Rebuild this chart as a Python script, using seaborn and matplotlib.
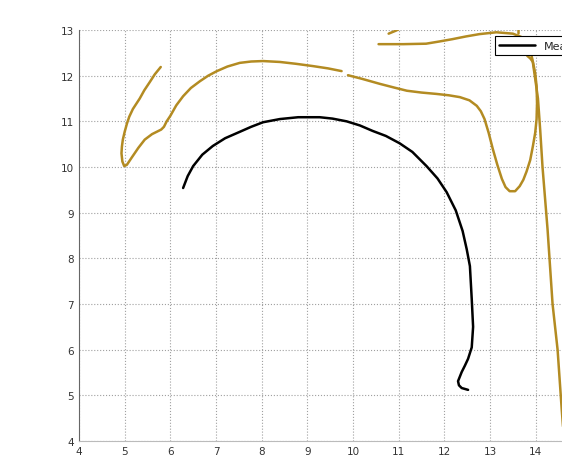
import matplotlib
matplotlib.use("Agg")
import matplotlib.pyplot as plt
import seaborn as sns

# trajectoire mesurée (noire)
meas_x = [6.28, 6.38, 6.5, 6.7, 6.93, 7.2, 7.52, 7.77, 8.03, 8.4, 8.8, 9.27, 9.55, 9.86,
          10.15, 10.43, 10.72, 11.02, 11.3, 11.61, 11.85, 12.05, 12.25, 12.4, 12.49, 12.56,
          12.6, 12.63, 12.6, 12.52, 12.45, 12.38, 12.3, 12.32, 12.38, 12.52]
meas_y = [9.54, 9.8, 10.02, 10.27, 10.46, 10.63, 10.77, 10.88, 10.98, 11.05, 11.09, 11.09, 11.06, 11.0,
          10.91, 10.79, 10.68, 10.52, 10.33, 10.02, 9.75, 9.45, 9.05, 8.6, 8.2, 7.83,
          7.11, 6.5, 6.05, 5.8, 5.65, 5.51, 5.31, 5.22, 5.16, 5.12]

# courbes dorées
gold_a_x = [5.79, 5.66, 5.55, 5.43, 5.33, 5.18, 5.1, 5.05, 5.0, 4.96, 4.94, 4.93, 4.95, 4.99, 5.05,
            5.15, 5.3, 5.44, 5.6, 5.72, 5.8, 5.86, 5.92, 6.0, 6.13, 6.28, 6.45, 6.65, 6.83, 7.02,
            7.25, 7.52, 7.77, 8.03, 8.4, 8.75, 9.12, 9.45, 9.75]
gold_a_y = [12.19, 12.03, 11.86, 11.68, 11.5, 11.27, 11.1, 10.95, 10.77, 10.6, 10.45, 10.3, 10.12,
            10.02, 10.05, 10.2, 10.42, 10.6, 10.72, 10.78, 10.82, 10.88, 11.0, 11.12, 11.35, 11.55,
            11.73, 11.88, 12.0, 12.1, 12.2, 12.28, 12.31, 12.32, 12.3, 12.26, 12.21, 12.16, 12.1]

gold_b_x = [9.89, 10.2, 10.59, 10.9, 11.18, 11.5, 11.83, 12.1, 12.34, 12.55, 12.71, 12.8, 12.88,
            12.97, 13.06, 13.16, 13.26, 13.34, 13.43, 13.55, 13.65, 13.73, 13.8, 13.88, 13.94,
            13.99, 14.02, 14.03, 14.02, 13.99, 13.94, 13.88, 13.82, 13.76]
gold_b_y = [12.01, 11.93, 11.82, 11.74, 11.67, 11.63, 11.6, 11.57, 11.53, 11.46, 11.34, 11.22, 11.05,
            10.75, 10.4, 10.05, 9.74, 9.56, 9.47, 9.47, 9.58, 9.72, 9.9, 10.15, 10.46,
            10.75, 11.05, 11.4, 11.77, 12.05, 12.3, 12.38, 12.43, 12.55]

gold_c_x = [10.56, 11.1, 11.6, 11.9, 12.18, 12.48, 12.77, 13.14, 13.5, 13.68, 13.8, 13.88, 13.93,
            13.98, 14.05, 14.1, 14.15, 14.26, 14.37, 14.48, 14.57, 14.66]
gold_c_y = [12.69, 12.69, 12.7, 12.75, 12.8, 12.86, 12.91, 12.95, 12.92, 12.85, 12.72, 12.55, 12.35,
            12.0, 11.5, 10.8, 10.0, 8.64, 7.0, 6.0, 4.7, 3.5]

gold_d_x = [10.78, 10.95, 11.15]
gold_d_y = [12.92, 12.99, 13.1]

gold_e_x = [13.62, 13.62]
gold_e_y = [12.93, 13.1]

GOLD = "#B38B22"

sns.set_style("white")
plt.rcParams["font.family"] = ["DejaVu Sans"]

fig = plt.figure(figsize=(5.62, 4.60), dpi=100)
ax = fig.add_axes([79 / 562, 18 / 460, 548 / 562, 411 / 460])

sns.lineplot(x=meas_x, y=meas_y, sort=False, estimator=None, ax=ax,
             color="black", linewidth=1.8, label="Measured")
for gx, gy in [(gold_a_x, gold_a_y), (gold_b_x, gold_b_y), (gold_c_x, gold_c_y),
               (gold_d_x, gold_d_y), (gold_e_x, gold_e_y)]:
    sns.lineplot(x=gx, y=gy, sort=False, estimator=None, ax=ax,
                 color=GOLD, linewidth=1.8, legend=False)

ax.set_xlim(4, 16)
ax.set_ylim(4, 13)
ax.set_xticks(range(4, 15))
ax.set_yticks(range(4, 14))
ax.grid(True, linestyle=":", color="#a0a0a0", linewidth=0.8)
ax.tick_params(direction="in", length=3, labelsize=7.5, colors="#333333", width=0.8)
for side in ["top", "right"]:
    ax.spines[side].set_visible(False)
ax.spines["left"].set_color("#666666")
ax.spines["bottom"].set_color("#bbbbbb")

leg = ax.legend(loc="upper left", bbox_to_anchor=(0.759, 0.985), borderaxespad=0,
                fancybox=False, framealpha=1, edgecolor="black", fontsize=8,
                handlelength=3.2)
leg.get_frame().set_linewidth(0.8)

fig.savefig("out.png", dpi=100)
